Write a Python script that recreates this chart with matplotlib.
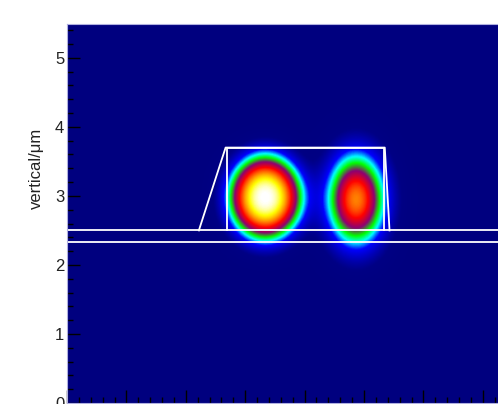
import numpy as np
import matplotlib
matplotlib.use("Agg")
import matplotlib.pyplot as plt
from matplotlib.colors import LinearSegmentedColormap

# ---- data ----
# mode lobes: centre x, centre y, half-width x, half-width y, edge sharpness, peak
lobe_cx = [3.33, 4.86]
lobe_cy = [2.98, 2.95]
lobe_wx = [0.60, 0.48]
lobe_wy = [0.60, 0.65]
lobe_n = [2.7, 2.0]
lobe_peak = [1.00, 0.78]

# waveguide outline (white lines)
ridge_x = [2.22, 2.67, 5.35, 5.43]
ridge_y = [2.50, 3.70, 3.70, 2.50]
inner_x = [2.69, 2.69, 5.34, 5.34]
inner_y = [2.50, 3.70, 3.70, 2.50]
layer_y = [2.50, 2.333]

xlim = (0.0, 8.3)
ylim = (0.0, 5.49)
yticks = [0, 1, 2, 3, 4, 5]

# ---- colormap ----
cmap = LinearSegmentedColormap.from_list("mode", [
    (0.00, (0.0, 0.0, 0.50)),
    (0.06, (0.0, 0.0, 0.52)),
    (0.22, (0.0, 0.0, 1.0)),
    (0.31, (0.0, 1.0, 1.0)),
    (0.40, (0.0, 1.0, 0.0)),
    (0.52, (0.55, 0.0, 0.45)),
    (0.66, (1.0, 0.0, 0.0)),
    (0.90, (1.0, 1.0, 0.0)),
    (1.00, (1.0, 1.0, 1.0)),
])

x = np.linspace(xlim[0], xlim[1], 600)
y = np.linspace(ylim[0], ylim[1], 400)
X, Y = np.meshgrid(x, y)
Z = np.zeros_like(X)
for cx, cy, wx, wy, n, a in zip(lobe_cx, lobe_cy, lobe_wx, lobe_wy, lobe_n, lobe_peak):
    r = np.sqrt(((X - cx) / wx) ** 2 + ((Y - cy) / wy) ** 2)
    Z += a * np.exp(-r ** n)

fig = plt.figure(figsize=(4.98, 4.04), dpi=100)
ax = fig.add_axes([67 / 498, 1 / 404, (560 - 67) / 498, (403 - 24) / 404])
ax.imshow(Z, cmap=cmap, vmin=0, vmax=1, origin="lower", aspect="auto",
          extent=[xlim[0], xlim[1], ylim[0], ylim[1]], interpolation="bilinear")

lw = 1.3
ax.plot(ridge_x, ridge_y, color="white", lw=lw)
ax.plot(inner_x, inner_y, color="white", lw=lw)
for yy in layer_y:
    ax.axhline(yy, color="white", lw=lw)

ax.set_xlim(*xlim)
ax.set_ylim(*ylim)
ax.set_yticks(yticks)
ax.set_xticks(np.arange(0, 9, 1))
ax.set_xticks(np.arange(0, 8.3, 0.2), minor=True)
ax.set_yticks(np.arange(0, 5.5, 0.2), minor=True)
ax.set_xticklabels([])
ax.tick_params(which="major", direction="in", length=9.5, width=1.0, color="black",
               pad=2, labelsize=12)
ax.tick_params(which="minor", direction="in", length=4.5, width=1.0, color="black")
for lab in ax.get_yticklabels():
    lab.set_fontfamily("Liberation Sans")
    lab.set_color("#222222")
for s in ax.spines.values():
    s.set_color("#b0b0e0")
    s.set_linewidth(0.8)

ax.set_ylabel("vertical/μm", fontsize=12, family="Liberation Sans", color="#222222")
ax.yaxis.set_label_coords(-0.046, (403 - 168) / 379)

fig.savefig("out.png", dpi=100)
